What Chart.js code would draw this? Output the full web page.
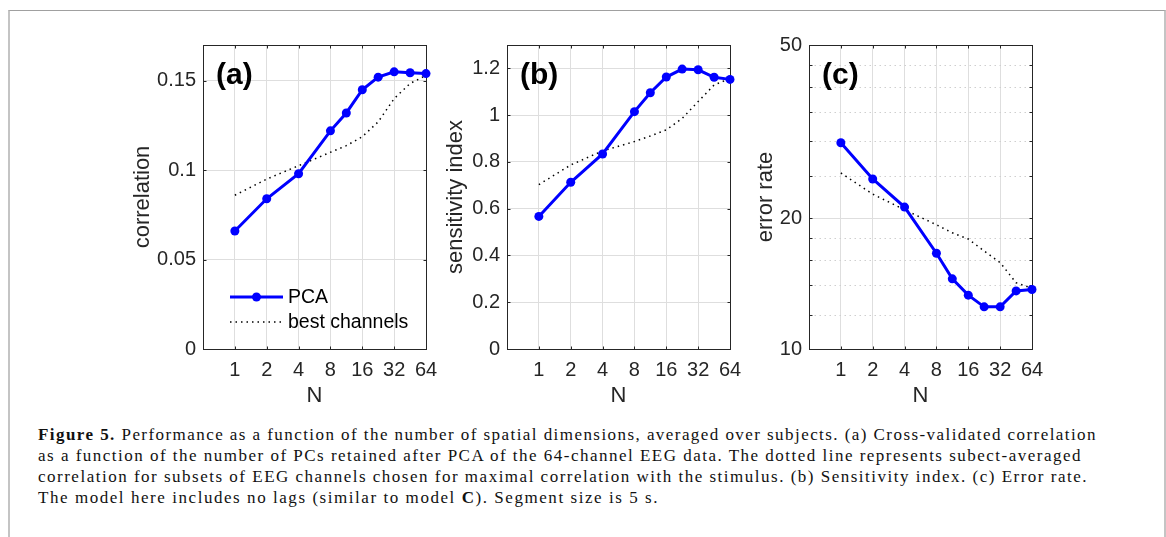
<!DOCTYPE html>
<html>
<head>
<meta charset="utf-8">
<script src="https://cdn.jsdelivr.net/npm/chart.js@4.4.1/dist/chart.umd.min.js"></script>
<style>
  body { margin: 0; background: #fff; width: 1166px; height: 537px; position: relative; overflow: hidden; }
  .frame { position: absolute; left: 8px; top: 10px; width: 1154px; height: 540px;
           border-top: 1px solid #a0a0a0; border-left: 2px solid #c4c4c4; border-right: 2px solid #c4c4c4; }
  canvas { position: absolute; top: 30px; }
  #caption { position: absolute; left: 38px; top: 424px; font-family: 'Liberation Serif', serif;
             font-size: 17px; line-height: 21px; color: #111; }
  #caption div { white-space: nowrap; display: table; }
</style>
</head>
<body>
<div class="frame"></div>
<canvas id="chartA" width="343" height="389" style="left:113px"></canvas>
<canvas id="chartB" width="343" height="389" style="left:417px"></canvas>
<canvas id="chartC" width="343" height="389" style="left:719px"></canvas>
<div id="caption">
  <div data-w="1059"><b>Figure 5.</b> Performance as a function of the number of spatial dimensions, averaged over subjects. (a) Cross-validated correlation</div>
  <div data-w="1044">as a function of the number of PCs retained after PCA of the 64-channel EEG data. The dotted line represents subect-averaged</div>
  <div data-w="1050">correlation for subsets of EEG channels chosen for maximal correlation with the stimulus. (b) Sensitivity index. (c) Error rate.</div>
  <div data-w="621">The model here includes no lags (similar to model <b>C</b>). Segment size is 5 s.</div>
</div>
<script>
// number of spatial dimensions (N)
var nValues = [1, 2, 4, 8, 11.3, 16, 22.6, 32, 45.3, 64];
var xTickLabels = ['1', '2', '4', '8', '16', '32', '64'];
var xTickValues = [1, 2, 4, 8, 16, 32, 64];

// (a) correlation
var corrPCA  = [0.066, 0.084, 0.098, 0.122, 0.132, 0.145, 0.152, 0.155, 0.1545, 0.154];
var corrBest = [0.086, 0.095, 0.1025, 0.110, 0.1137, 0.1187, 0.127, 0.140, 0.1485, 0.153];
var corrTicks = [0, 0.05, 0.1, 0.15];

// (b) sensitivity index
var sensPCA  = [0.567, 0.713, 0.834, 1.015, 1.096, 1.163, 1.197, 1.194, 1.162, 1.153];
var sensBest = [0.703, 0.787, 0.847, 0.887, 0.911, 0.937, 0.986, 1.058, 1.129, 1.157];
var sensTicks = [0, 0.2, 0.4, 0.6, 0.8, 1, 1.2];

// (c) error rate (log axis)
var errPCA  = [29.8, 24.6, 21.2, 16.6, 14.5, 13.3, 12.5, 12.5, 13.6, 13.7];
var errBest = [25.4, 22.7, 20.9, 19.3, 18.5, 17.9, 16.8, 15.8, 14.2, 13.8];
var errTicks = [10, 20, 50];
var errMinorTicks = [12, 14, 16, 18, 25, 30, 35, 40, 45];

var axisColor = '#262626';
var gridColor = '#dedede';

// stretch caption lines to the widths of the printed figure
document.querySelectorAll('#caption div').forEach(function (el) {
  var w = el.getBoundingClientRect().width;
  var n = el.textContent.length;
  el.style.letterSpacing = ((+el.dataset.w - w) / n) + 'px';
});

function toPoints(vals) {
  return vals.map(function (v, i) { return { x: Math.log2(nValues[i]), y: v }; });
}

// box, inward ticks, minor dotted grid, panel letter and legend, like MATLAB axes
var matlabAxes = {
  id: 'matlabAxes',
  beforeDatasetsDraw: function (chart, args, opts) {
    var ctx = chart.ctx, a = chart.chartArea, x = chart.scales.x, y = chart.scales.y;
    var L = Math.round(a.left) + 0.5, R = Math.round(a.right) + 0.5;
    var T = Math.round(a.top) + 0.5, B = Math.round(a.bottom) + 0.5;
    ctx.save();
    ctx.lineWidth = 1;
    if (opts.minor) {
      ctx.strokeStyle = '#cfcfcf';
      ctx.setLineDash([1.5, 3.5]);
      opts.minor.forEach(function (v) {
        var py = Math.round(y.getPixelForValue(v)) + 0.5;
        ctx.beginPath(); ctx.moveTo(L, py); ctx.lineTo(R, py); ctx.stroke();
      });
      ctx.setLineDash([]);
    }
    ctx.strokeStyle = axisColor;
    ctx.strokeRect(L, T, R - L, B - T);
    var tl = 3;
    x.ticks.forEach(function (t) {
      var px = Math.round(x.getPixelForValue(t.value)) + 0.5;
      ctx.beginPath();
      ctx.moveTo(px, B); ctx.lineTo(px, B - tl);
      ctx.moveTo(px, T); ctx.lineTo(px, T + tl);
      ctx.stroke();
    });
    var yv = y.ticks.map(function (t) { return t.value; }).concat(opts.minor || []);
    yv.forEach(function (v) {
      var py = Math.round(y.getPixelForValue(v)) + 0.5;
      ctx.beginPath();
      ctx.moveTo(L, py); ctx.lineTo(L + tl, py);
      ctx.moveTo(R, py); ctx.lineTo(R - tl, py);
      ctx.stroke();
    });
    ctx.restore();
  },
  afterDraw: function (chart, args, opts) {
    var ctx = chart.ctx, a = chart.chartArea;
    ctx.save();
    ctx.fillStyle = '#000';
    ctx.font = 'bold 30px "Liberation Sans", Arial, sans-serif';
    ctx.textBaseline = 'alphabetic';
    ctx.fillText(opts.letter, a.left + 13, a.top + 38.5);
    if (opts.legend) {
      ctx.font = '19.5px "Liberation Sans", Arial, sans-serif';
      ctx.textBaseline = 'middle';
      chart.data.datasets.forEach(function (ds, i) {
        var ry = a.top + 252 + i * 25;
        ctx.strokeStyle = ds.borderColor;
        ctx.lineWidth = ds.borderWidth;
        ctx.setLineDash(ds.borderDash || []);
        ctx.beginPath(); ctx.moveTo(a.left + 27, ry); ctx.lineTo(a.left + 80, ry); ctx.stroke();
        ctx.setLineDash([]);
        if (ds.pointRadius > 0) {
          ctx.fillStyle = ds.pointBackgroundColor;
          ctx.beginPath(); ctx.arc(a.left + 53.5, ry, ds.pointRadius, 0, Math.PI * 2); ctx.fill();
        }
        ctx.fillStyle = '#000';
        ctx.fillText(ds.label, a.left + 85, ry + 1);
      });
    }
    ctx.restore();
  }
};

function makePanel(id, pca, best, yOpts, panelOpts) {
  var ctx = document.getElementById(id).getContext('2d');
  var tickFont = { family: '"Liberation Sans", Arial, sans-serif', size: 20 };
  var titleFont = { family: '"Liberation Sans", Arial, sans-serif', size: 22 };
  var yTicks = yOpts.ticks;
  return new Chart(ctx, {
    type: 'line',
    data: {
      datasets: [{
        label: 'PCA',
        data: toPoints(pca),
        borderColor: '#0000ff',
        backgroundColor: '#0000ff',
        pointBackgroundColor: '#0000ff',
        pointBorderWidth: 0,
        borderWidth: 3,
        pointRadius: 4.5,
        clip: false,
        order: 0
      }, {
        label: 'best channels',
        data: toPoints(best),
        borderColor: '#000000',
        borderWidth: 1.5,
        borderDash: [1.5, 4],
        pointRadius: 0,
        clip: false,
        order: 1
      }]
    },
    options: {
      responsive: false,
      animation: false,
      events: [],
      layout: { padding: { top: 15, right: 30, left: 0, bottom: 0 } },
      scales: {
        x: {
          type: 'linear',
          min: -1,
          max: 6,
          afterBuildTicks: function (s) {
            s.ticks = xTickValues.map(function (v) { return { value: Math.log2(v) }; });
          },
          afterFit: function (s) {
            s.height = 70;
            s.paddingLeft = 0; s.paddingRight = 0;
          },
          ticks: {
            color: axisColor, font: tickFont, padding: 9, maxRotation: 0, autoSkip: false,
            callback: function (v, i) { return xTickLabels[i]; }
          },
          grid: { color: gridColor, drawTicks: false },
          border: { display: false },
          title: { display: true, text: 'N', color: axisColor, font: titleFont, padding: { top: 0, bottom: 10 } }
        },
        y: {
          type: yOpts.type,
          min: yOpts.min,
          max: yOpts.max,
          afterBuildTicks: function (s) {
            s.ticks = yTicks.map(function (v) { return { value: v }; });
          },
          afterFit: function (s) {
            s.width = 90;
            s.paddingTop = 0; s.paddingBottom = 0;
          },
          ticks: {
            color: axisColor, font: tickFont, padding: 7, autoSkip: false,
            callback: function (v) { return String(v); }
          },
          grid: { color: gridColor, drawTicks: false },
          border: { display: false },
          title: { display: true, text: yOpts.title, color: axisColor, font: titleFont, padding: { top: yOpts.titlePad, bottom: 0 } }
        }
      },
      plugins: {
        legend: { display: false },
        tooltip: { enabled: false },
        matlabAxes: panelOpts
      }
    },
    plugins: [matlabAxes]
  });
}

makePanel('chartA', corrPCA, corrBest,
  { type: 'linear', min: 0, max: 0.17, ticks: corrTicks, title: 'correlation', titlePad: 17 },
  { letter: '(a)', legend: true });

makePanel('chartB', sensPCA, sensBest,
  { type: 'linear', min: 0, max: 1.3, ticks: sensTicks, title: 'sensitivity index', titlePad: 26 },
  { letter: '(b)' });

makePanel('chartC', errPCA, errBest,
  { type: 'logarithmic', min: 10, max: 50, ticks: errTicks, title: 'error rate', titlePad: 34 },
  { letter: '(c)', minor: errMinorTicks });
</script>
</body>
</html>
